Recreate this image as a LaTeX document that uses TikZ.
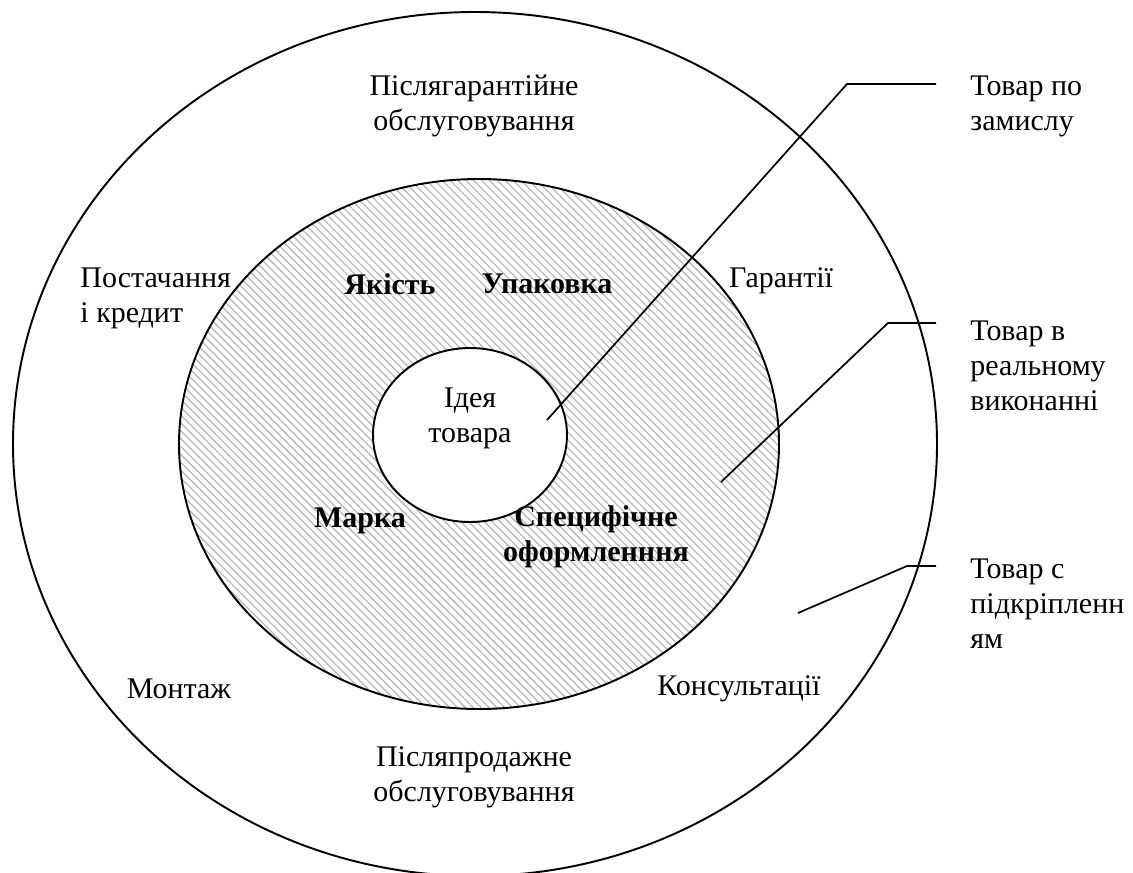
\documentclass[tikz,border=0pt]{standalone}
\usepackage{fontspec}
\setmainfont{Liberation Serif}
\usetikzlibrary{patterns.meta}

\tikzset{
  ring/.style={draw=black, line width=0.9pt},
  lbl/.style={font=\fontsize{14}{16.3}\selectfont, align=center, inner sep=0pt},
  boldlbl/.style={lbl, font=\fontsize{14}{16.3}\selectfont\bfseries},
  sidelbl/.style={lbl, align=left, anchor=west},
  leader/.style={draw=black, line width=0.8pt}
}

\begin{document}
\begin{tikzpicture}[x=0.467pt,y=-0.467pt]
  \useasboundingbox (0,0) rectangle (1133,872);

  % the three levels of the product
  \draw[ring] (475,444) ellipse [x radius=462, y radius=432];
  \draw[ring, pattern={Lines[angle=-45, distance=2.6pt, line width=0.6pt]},
        pattern color=black!28] (479,444) ellipse [x radius=300, y radius=265];
  \draw[ring, fill=white] (470,435) ellipse [x radius=97, y radius=87];

  % outer ring
  \node[lbl] (afterwarranty) at (474,106) {Післягарантійне\\обслуговування};
  \node[lbl, align=left, anchor=west] (supply) at (80,298) {Постачання\\і кредит};
  \node[lbl] (warranty) at (781,281) {Гарантії};
  \node[lbl] (mounting) at (179,689) {Монтаж};
  \node[lbl] (consult) at (739,689) {Консультації};
  \node[lbl] (aftersale) at (474,777) {Післяпродажне\\обслуговування};

  % middle ring
  \node[boldlbl] (quality) at (390,284) {Якість};
  \node[boldlbl] (package) at (547,284) {Упаковка};
  \node[boldlbl] (brand) at (360,521) {Марка};
  \node[boldlbl] (design) at (596,537) {Специфічне\\оформле\-ннн\-я};

  % core
  \node[lbl] (idea) at (470,418) {Ідея\\товара};

  % labels on the right
  \node[sidelbl] (byidea) at (970,106) {Товар по\\замислу};
  \node[sidelbl] (real) at (970,366) {Товар в\\реальному\\виконанні};
  \node[sidelbl] (augmented) at (970,604) {Товар с\\підкріпленн\\ям};

  % leaders
  \coordinate (l1a) at (547,420);
  \coordinate (l1b) at (847,84);
  \coordinate (l1c) at (936,84);
  \coordinate (l2a) at (721,482);
  \coordinate (l2b) at (888,323);
  \coordinate (l2c) at (936,323);
  \coordinate (l3a) at (798,613);
  \coordinate (l3b) at (907,566);
  \coordinate (l3c) at (936,566);
  \draw[leader] (l1a) -- (l1b) -- (l1c);
  \draw[leader] (l2a) -- (l2b) -- (l2c);
  \draw[leader] (l3a) -- (l3b) -- (l3c);

\end{tikzpicture}
\end{document}
